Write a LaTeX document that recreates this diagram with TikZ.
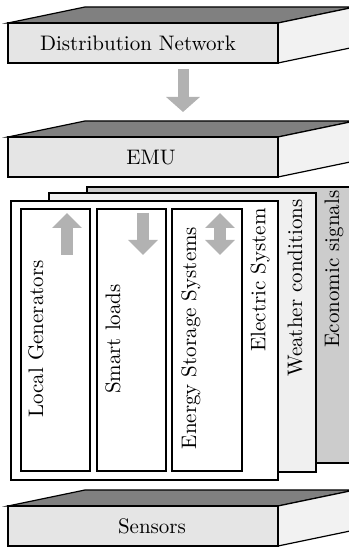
\documentclass[tikz,border=0pt]{standalone}
\usepackage{tikz}
\usetikzlibrary{arrows.meta,shadows}
\tikzset{
  slabfront/.style={draw, fill=black!10, semithick},
  slabtop/.style={draw, fill=black!50, semithick},
  slabside/.style={draw, fill=black!5, semithick},
  panel/.style={draw, semithick,
    drop shadow={shadow xshift=0.6pt, shadow yshift=-0.6pt, opacity=0.4}},
  flow/.style={line width=5.5pt, black!30},
  smallflow/.style={line width=6pt, black!30},
}
\newcommand{\slabbox}[1]{% bottom edge of the front face
  \filldraw[slabtop] (8,#1+40) -- (85,#1+56) -- (355,#1+56) -- (278,#1+40) -- cycle;
  \filldraw[slabside] (278,#1) -- (278,#1+40) -- (355,#1+56) -- (355,#1+16) -- cycle;
  \filldraw[slabfront] (8,#1) rectangle (278,#1+40);
}

\begin{document}
\begin{tikzpicture}[x=0.5pt,y=0.5pt,font=\fontsize{10.5}{12}\selectfont]
\useasboundingbox (0,0) rectangle (348,549);

% layers
\slabbox{486}
\node (dist) at (138,506) {Distribution Network};
\slabbox{372}
\node (emu) at (151,391) {EMU};
\slabbox{3}
\node (sensors) at (152,23) {Sensors};

\coordinate (flowTail) at (183,480);
\coordinate (flowTip) at (183,437);
\draw[flow,-{Triangle[length=7.5pt,width=16.5pt]}] (flowTail) -- (flowTip);

% stacked panels
\filldraw[panel, fill=black!20] (87,86) rectangle (360,362);
\filldraw[panel, fill=black!6] (49,77) rectangle (316,356);
\filldraw[panel, fill=white] (11,69) rectangle (278,348);

\filldraw[panel, fill=white] (21,78) rectangle (90,340);
\filldraw[panel, fill=white] (97,78) rectangle (166,340);
\filldraw[panel, fill=white] (172,78) rectangle (242,340);

\node[rotate=90] (gen) at (36,210) {Local Generators};
\node[rotate=90] (loads) at (113,210) {Smart loads};
\node[rotate=90] (storage) at (191,211) {Energy Storage Systems};
\node[rotate=90] (electric) at (260,269) {Electric System};
\node[rotate=90] (weather) at (295,261) {Weather conditions};
\node[rotate=90] (economic) at (334,280) {Economic signals};

\coordinate (genLow) at (67,294);
\coordinate (genHigh) at (67,336);
\coordinate (loadsLow) at (143,294);
\coordinate (loadsHigh) at (143,336);
\coordinate (storeLow) at (220,294);
\coordinate (storeHigh) at (220,336);
\draw[smallflow,-{Triangle[length=7.5pt,width=14.5pt]}] (genLow) -- (genHigh);
\draw[smallflow,-{Triangle[length=7.5pt,width=14.5pt]}] (loadsHigh) -- (loadsLow);
\draw[smallflow,{Triangle[length=7.5pt,width=14.5pt]}-{Triangle[length=7.5pt,width=14.5pt]}] (storeLow) -- (storeHigh);

\end{tikzpicture}
\end{document}
